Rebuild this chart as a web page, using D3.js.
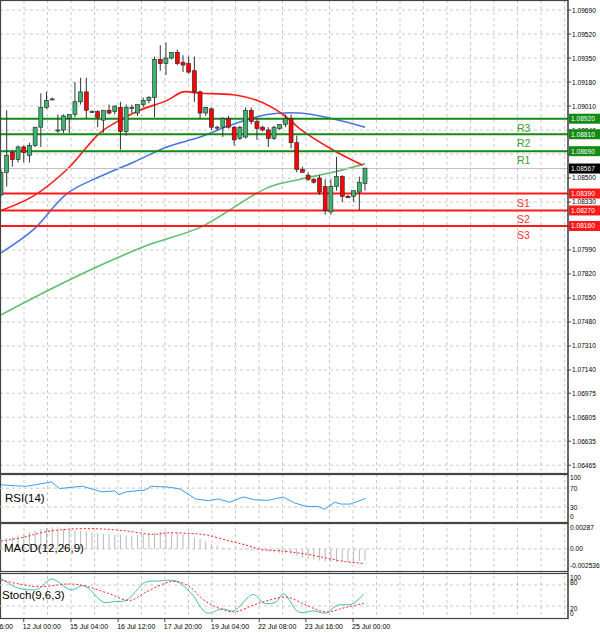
<!DOCTYPE html>
<html>
<head>
<meta charset="utf-8">
<script src="https://cdn.jsdelivr.net/npm/d3@7"></script>
<style>
  body { margin: 0; background: #fff; }
  svg { display: block; font-family: "Liberation Sans", "DejaVu Sans", sans-serif; }
</style>
</head>
<body>
<svg id="chart" width="600" height="633"></svg>
<script>
// H4 candles: open, high, low, close
const candles = [
  [1.0838,1.0856,1.0837,1.0854],[1.0854,1.0898,1.0844,1.0866],[1.0868,1.0870,1.0858,1.0863],
  [1.0863,1.0873,1.0861,1.0872],[1.0872,1.0873,1.0861,1.0868],[1.0866,1.0875,1.0861,1.0873],
  [1.0873,1.0886,1.0872,1.0886],[1.0886,1.0910,1.0872,1.0900],[1.0900,1.0911,1.0899,1.0905],
  [1.0906,1.0907,1.0905,1.0906],[1.0884,1.0895,1.0882,1.0884],[1.0884,1.0895,1.0882,1.0894],
  [1.0892,1.0895,1.0882,1.0895],[1.0895,1.0918,1.0893,1.0904],[1.0904,1.0921,1.0902,1.0911],
  [1.0911,1.0921,1.0892,1.0898],[1.0897,1.0898,1.0896,1.0897],[1.0897,1.0898,1.0886,1.0893],
  [1.0891,1.0898,1.0882,1.0898],[1.0898,1.0902,1.0895,1.0896],[1.0897,1.0901,1.0895,1.0901],
  [1.0900,1.0904,1.0870,1.0883],[1.0883,1.0902,1.0880,1.0900],[1.0900,1.0902,1.0896,1.0900],
  [1.0896,1.0902,1.0894,1.0902],[1.0902,1.0907,1.0900,1.0905],[1.0905,1.0908,1.0903,1.0907],
  [1.0907,1.0936,1.0893,1.0934],[1.0934,1.0944,1.0926,1.0931],[1.0931,1.0946,1.0923,1.0935],
  [1.0935,1.0939,1.0934,1.0939],[1.0939,1.0941,1.0930,1.0931],[1.0932,1.0937,1.0925,1.0930],
  [1.0931,1.0936,1.0924,1.0925],[1.0926,1.0936,1.0904,1.0911],[1.0911,1.0912,1.0892,1.0896],
  [1.0896,1.0900,1.0894,1.0900],[1.0899,1.0900,1.0884,1.0886],[1.0886,1.0887,1.0884,1.0886],
  [1.0886,1.0893,1.0879,1.0892],[1.0892,1.0894,1.0885,1.0886],[1.0886,1.0887,1.0873,1.0877],
  [1.0878,1.0887,1.0877,1.0886],[1.0879,1.0900,1.0878,1.0898],[1.0898,1.0900,1.0888,1.0890],
  [1.0890,1.0892,1.0877,1.0885],[1.0886,1.0887,1.0883,1.0884],[1.0884,1.0886,1.0872,1.0878],
  [1.0878,1.0887,1.0877,1.0886],[1.0885,1.0888,1.0884,1.0888],[1.0888,1.0895,1.0886,1.0892],
  [1.0892,1.0895,1.0871,1.0875],[1.0875,1.0880,1.0854,1.0856],[1.0856,1.0858,1.0854,1.0854],
  [1.0852,1.0854,1.0848,1.0849],[1.0849,1.0850,1.0846,1.0847],[1.0850,1.0852,1.0838,1.0840],
  [1.0844,1.0849,1.0824,1.0827],[1.0826,1.0849,1.0824,1.0844],[1.0844,1.0865,1.0841,1.0851],
  [1.0851,1.0852,1.0833,1.0837],[1.0837,1.0838,1.0836,1.0836],[1.0837,1.0841,1.0833,1.0841],
  [1.0840,1.0851,1.0827,1.0847],[1.0846,1.0857,1.0841,1.0857]
]

// moving averages, [bar index, price]
const maRed = [[0,1.0827],[5.6,1.0837],[11.6,1.0856],[17.4,1.0882],[20.9,1.0891],[24.4,1.0898],[29.2,1.0905],[32,1.0911],[35,1.0910],[40.8,1.0909],[45,1.0905],[49.6,1.0895],[52.5,1.0885],[58.3,1.0870],[63.6,1.0859]]
const maBlue = [[0,1.0797],[5.6,1.0813],[11.6,1.0839],[17.4,1.0851],[23.2,1.0861],[29.2,1.0872],[35,1.0879],[40.8,1.0888],[46.8,1.0895],[52.5,1.0896],[58.3,1.0892],[64,1.0886]]
const maGreen = [[0,1.0753],[8.6,1.0771],[17.4,1.0788],[26.2,1.0803],[35,1.0815],[46.8,1.0843],[52.5,1.0849],[58.3,1.0854],[64,1.0860]]

const levels = [
  { name: 'R3', value: 1.0892, label: '1.08920' },
  { name: 'R2', value: 1.0881, label: '1.08810' },
  { name: 'R1', value: 1.0869, label: '1.08690' },
  { name: 'S1', value: 1.0839, label: '1.08390' },
  { name: 'S2', value: 1.0827, label: '1.08270' },
  { name: 'S3', value: 1.0816, label: '1.08160' }
]
const lastPrice = 1.08567

const priceTicks = [1.0969,1.0952,1.0935,1.0918,1.0901,1.0884,1.0867,1.085,1.0833,1.0816,1.0799,1.0782,1.0765,1.0748,1.0731,1.0714,1.06975,1.06805,1.06635,1.06465]
const timeLabels = ['6:00','12 Jul 00:00','15 Jul 04:00','16 Jul 12:00','17 Jul 20:00','19 Jul 04:00','22 Jul 08:00','23 Jul 16:00','25 Jul 00:00']
const timeIdx = [-4.2,4,12.3,20.6,28.8,37.1,45.4,53.6,61.9]

const rsi = [[0,77],[2.5,75],[4.5,74],[8.9,83],[10.3,69],[14.3,74],[17.7,62],[20,64],[20.7,56],[22,62],[25.4,66],[26.4,74],[29.5,72],[31.5,68],[34.2,47],[36.5,43],[38.2,47],[40.2,40],[42.6,51],[44.6,45],[47,44],[49.6,51],[51.7,38],[53.7,31],[55.7,31],[56.9,25],[58.7,40],[59.8,36],[61.4,36],[64.1,48]]

const macdHist = [0.0012,0.0013,0.0014,0.0016,0.0018,0.002,0.0022,0.0024,0.0025,0.0026,0.0026,
  0.0024,0.0023,0.0022,0.0022,0.0021,0.002,0.0019,0.0018,0.0018,0.0017,
  0.0017,0.0016,0.0016,0.0017,0.0018,0.0019,0.0019,0.0021,0.0021,0.002,
  0.0019,0.0018,0.0016,0.0014,0.0012,0.0009,0.0006,0.0004,0.0002,0.0001,0,-0.0001,
  -0.0001,-0.0002,-0.0002,-0.0003,-0.0003,-0.0004,-0.0005,-0.0005,-0.0006,-0.0008,
  -0.0010,-0.0012,-0.0013,-0.0014,-0.0015,-0.0016,-0.0016,-0.0015,-0.0016,-0.0016,-0.0015,-0.0014]
const macdSignal = [[0,0.00094],[3.9,0.00139],[7.9,0.00206],[12,0.00237],[16.7,0.00242],[21.4,0.0022],[26.8,0.00175],[29.5,0.00193],[33.5,0.00184],[36.2,0.00166],[40.2,0.00094],[42.9,0.00049],[45.6,-0.00004],[49.6,-0.00027],[53.7,-0.00063],[57,-0.00108],[60.4,-0.00152],[63.8,-0.00175]]

const stochMain = [[0,100],[2.5,74],[5.2,66],[6.6,69],[8.9,97],[12.3,66],[14.6,78],[18,31],[20,33],[22,36],[25.4,88],[27.4,91],[30.8,91],[33.5,55],[36.2,0],[38.9,12],[40.9,6],[44.3,53],[46.3,28],[48.3,31],[49.7,55],[52.3,3],[55,6],[57.1,0],[59.1,22],[61.8,26],[63.8,55]]
const stochSignal = [[0,94],[3.2,83],[6.6,75],[12,83],[14.6,78],[18.7,57],[22.7,36],[25.4,59],[30.1,90],[32.8,79],[36.2,31],[40.9,3],[44.3,22],[47,36],[50.3,45],[53.7,22],[57.1,3],[60.4,15],[63.8,28]]

const svg = d3.select('#chart')
const plotR = 568
const gridCol = '#c8c8c8'
const axFont = 6.6
const x = d3.scaleLinear().domain([0, 64]).range([1, 365])
const y = d3.scaleLinear().domain([1.0641, 1.09761]).range([473, 0])

// vertical grid
const gridX = d3.range(0.5, plotR, 23.5)
svg.append('g').selectAll('line').data(gridX).join('line')
  .attr('x1', d => d).attr('x2', d => d).attr('y1', 0).attr('y2', 619)
  .attr('stroke', gridCol).attr('stroke-dasharray', '3,3')

// main panel grid + axis labels
const main = svg.append('g')
main.selectAll('.hg').data(priceTicks).join('line')
  .attr('x1', 0).attr('x2', plotR).attr('y1', d => y(d)).attr('y2', d => y(d))
  .attr('stroke', gridCol).attr('stroke-dasharray', '3,3')
main.selectAll('.tk').data(priceTicks).join('line')
  .attr('x1', plotR).attr('x2', plotR + 3).attr('y1', d => y(d)).attr('y2', d => y(d)).attr('stroke', '#444')
main.selectAll('.pt').data(priceTicks).join('text')
  .attr('x', 572).attr('y', d => y(d) + 2.5).attr('font-size', axFont).attr('fill', '#000')
  .text(d => d.toFixed(5))

// moving averages
const line = d3.line().x(d => x(d[0])).y(d => y(d[1])).curve(d3.curveCatmullRom)
;[[maGreen, '#5cbf6f'], [maBlue, '#4a74e0'], [maRed, '#ff1a1a']].forEach(([d, c]) => {
  main.append('path').attr('d', line(d)).attr('fill', 'none').attr('stroke', c).attr('stroke-width', 1.6)
})

// levels
levels.forEach(l => {
  const c = l.name[0] === 'R' ? '#138a13' : '#ff1a1a'
  main.append('line').attr('x1', 0).attr('x2', plotR).attr('y1', y(l.value)).attr('y2', y(l.value))
    .attr('stroke', c).attr('stroke-width', 2)
  main.append('text').attr('x', 517).attr('y', y(l.value) + 13).attr('font-size', 10.5).attr('fill', l.name[0] === 'R' ? '#3a9a3a' : '#ff3030').text(l.name)
  main.append('rect').attr('x', 569).attr('y', y(l.value) - 5).attr('width', 31).attr('height', 10).attr('fill', c)
  main.append('text').attr('x', 571).attr('y', y(l.value) + 2.5).attr('font-size', axFont).attr('fill', '#fff').text(l.label)
})

// last price
main.append('line').attr('x1', 0).attr('x2', plotR).attr('y1', y(lastPrice)).attr('y2', y(lastPrice)).attr('stroke', '#c0c0c0')
main.append('rect').attr('x', 569).attr('y', y(lastPrice) - 5).attr('width', 31).attr('height', 10).attr('fill', '#000')
main.append('text').attr('x', 571).attr('y', y(lastPrice) + 2.5).attr('font-size', axFont).attr('fill', '#fff').text(lastPrice.toFixed(5))

// candles
const cg = main.selectAll('.c').data(candles).join('g')
cg.append('line').attr('x1', (d, i) => x(i)).attr('x2', (d, i) => x(i))
  .attr('y1', d => y(d[1])).attr('y2', d => y(d[2])).attr('stroke', '#333')
cg.append('rect').attr('x', (d, i) => x(i) - 2).attr('width', 4)
  .attr('y', d => y(Math.max(d[0], d[3])))
  .attr('height', d => Math.max(1, Math.abs(y(d[0]) - y(d[3]))))
  .attr('fill', d => d[3] >= d[0] ? '#3cb371' : '#ff0000').attr('stroke', '#222').attr('stroke-width', 0.6)

// panel frames
const panels = [[0, 473], [474, 522], [523, 571], [573, 618]]
panels.forEach(p => {
  svg.append('rect').attr('x', 0.5).attr('y', p[0] + 0.5).attr('width', plotR - 0.5).attr('height', p[1] - p[0])
    .attr('fill', 'none').attr('stroke', '#444').attr('stroke-width', 1.2)
})

// RSI
const yR = d3.scaleLinear().domain([0, 100]).range([521, 474])
;[70, 30].forEach(v => svg.append('line').attr('x1', 0).attr('x2', plotR).attr('y1', yR(v)).attr('y2', yR(v)).attr('stroke', gridCol).attr('stroke-dasharray', '3,3'))
svg.append('path').attr('d', d3.line().x(d => x(d[0])).y(d => yR(d[1]))(rsi)).attr('fill', 'none').attr('stroke', '#3c9cf0').attr('stroke-width', 1)
svg.append('text').attr('x', 5).attr('y', 502).attr('font-size', 11.5).text('RSI(14)')
;[[100, 480], [70, 491], [30, 510], [0, 519]].forEach(([v, yy]) => svg.append('text').attr('x', 570).attr('y', yy).attr('font-size', axFont).text(v))

// MACD
const yM = d3.scaleLinear().domain([-0.002536, 0.00287]).range([570, 525])
svg.append('line').attr('x1', 0).attr('x2', plotR).attr('y1', yM(0)).attr('y2', yM(0)).attr('stroke', gridCol).attr('stroke-dasharray', '3,3')
svg.append('g').selectAll('line').data(macdHist).join('line')
  .attr('x1', (d, i) => x(i)).attr('x2', (d, i) => x(i)).attr('y1', yM(0)).attr('y2', d => yM(d)).attr('stroke', '#b8b8b8')
svg.append('path').attr('d', d3.line().x(d => x(d[0])).y(d => yM(d[1])).curve(d3.curveCatmullRom)(macdSignal))
  .attr('fill', 'none').attr('stroke', '#ff2020').attr('stroke-dasharray', '2,2')
svg.append('text').attr('x', 4).attr('y', 552).attr('font-size', 11.5).text('MACD(12,26,9)')
;[['0.00287', 530], ['0.00', 551], ['-0.002536', 568]].forEach(([v, yy]) => svg.append('text').attr('x', 570).attr('y', yy).attr('font-size', axFont).text(v))

// Stochastic
const yS = d3.scaleLinear().domain([0, 100]).range([613, 578])
;[80, 20].forEach(v => svg.append('line').attr('x1', 0).attr('x2', plotR).attr('y1', yS(v)).attr('y2', yS(v)).attr('stroke', gridCol).attr('stroke-dasharray', '3,3'))
svg.append('path').attr('d', d3.line().x(d => x(d[0])).y(d => yS(d[1])).curve(d3.curveCatmullRom)(stochMain))
  .attr('fill', 'none').attr('stroke', '#40c0b0').attr('stroke-width', 1)
svg.append('path').attr('d', d3.line().x(d => x(d[0])).y(d => yS(d[1])).curve(d3.curveCatmullRom)(stochSignal))
  .attr('fill', 'none').attr('stroke', '#ff2020').attr('stroke-dasharray', '2,2')
svg.append('text').attr('x', 2).attr('y', 599).attr('font-size', 11.5).text('Stoch(9,6,3)')
;[[100, 580], [80, 585], [20, 611], [0, 616]].forEach(([v, yy]) => svg.append('text').attr('x', 570).attr('y', yy).attr('font-size', axFont).text(v))

// right axis line
svg.append('line').attr('x1', plotR).attr('x2', plotR).attr('y1', 0).attr('y2', 619).attr('stroke', '#444')

// time axis
svg.append('g').selectAll('text').data(timeLabels).join('text')
  .attr('x', (d, i) => i === 0 ? 13 : x(timeIdx[i]) - 1).attr('y', 629).attr('font-size', 7)
  .attr('text-anchor', (d, i) => i === 0 ? 'end' : 'start').text(d => d)
svg.append('g').selectAll('line').data(timeIdx).join('line')
  .attr('x1', d => x(d)).attr('x2', d => x(d)).attr('y1', 618).attr('y2', 622).attr('stroke', '#444')
</script>
</body>
</html>
